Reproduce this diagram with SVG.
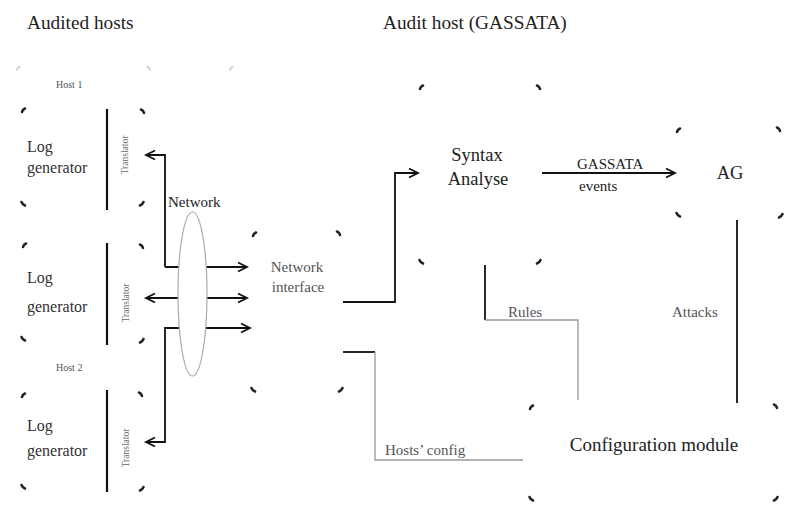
<svg xmlns="http://www.w3.org/2000/svg" xmlns:xlink="http://www.w3.org/1999/xlink" width="792" height="524" viewBox="0 0 792 524" font-family="Liberation Serif, Times New Roman, serif">
<style>
text{font-family:'Liberation Serif','Times New Roman',serif;fill:#222}
.title{font-size:19.3px}
.big{font-size:18.5px}
.lg{font-size:16px;fill:#333}
.md{font-size:15px}
.gr{fill:#555}
.sm{font-size:10px;fill:#555}
.tr{font-size:9.5px;fill:#666}
.bar{stroke:#111;stroke-width:2.2;fill:none}
.cn{stroke:#111;stroke-width:1.8;fill:none}
.cg{stroke:#999;stroke-width:1.3;fill:none}
.ck{stroke:#222;stroke-width:2.6;fill:none;stroke-linecap:round}
.cf{stroke:#ccc;stroke-width:1.6;fill:none;stroke-linecap:round}
</style>
<defs>
<marker id="arr" markerUnits="userSpaceOnUse" markerWidth="14" markerHeight="12" refX="10" refY="6" orient="auto-start-reverse">
<path d="M1,1.5 L10,6 L1,10.5" fill="none" stroke="#111" stroke-width="1.8"/>
</marker>
<path id="tl" d="M0,3 Q0.5,0.5 3,-0.5"/>
<path id="tr" d="M-3,-0.5 Q-0.5,0.5 0,3"/>
<path id="bl" d="M-0.5,-3 Q0.5,-0.5 3,0.5"/>
<path id="br" d="M0.5,-3 Q-0.5,-0.5 -3,0.5"/>
</defs>
<rect width="792" height="524" fill="#fff"/>

<g id="titles">
<text class="title" x="27" y="29">Audited hosts</text>
<text class="title" x="383" y="29">Audit host (GASSATA)</text>
</g>

<g id="faint-frames">
<use xlink:href="#tl" class="cf" x="17" y="67"/>
<use xlink:href="#tr" class="cf" x="150" y="67"/>
<use xlink:href="#tl" class="cf" x="230" y="67"/>
</g>

<g id="connectors">
<path class="cn" d="M165,267 V155 H146" marker-end="url(#arr)"/>
<path class="cn" d="M165,267 H247" marker-end="url(#arr)"/>
<path class="cn" d="M146,298 H247" marker-start="url(#arr)" marker-end="url(#arr)"/>
<path class="cn" d="M250,328 H165 V442 H146" marker-start="url(#arr)" marker-end="url(#arr)"/>
<path class="cn" d="M343,302 H395 V173 H418" marker-end="url(#arr)"/>
<path class="cn" d="M542,173 H675" marker-end="url(#arr)"/>
<path class="cn" d="M343,352 H375"/>
<path class="cg" d="M375,352 V460 H523"/>
<path class="cn" d="M485,265 V320"/>
<path class="cg" d="M485,320 H578 V400"/>
<path class="cn" d="M737,220 V403"/>
<text class="md" x="577" y="169">GASSATA</text>
<text class="md" x="579" y="191">events</text>
<text class="md gr" x="508" y="317">Rules</text>
<text class="md gr" x="672" y="317">Attacks</text>
<text class="md gr" x="385" y="455">Hosts’ config</text>
</g>

<g id="host1">
<text class="sm" x="56" y="88">Host 1</text>
<use xlink:href="#tl" class="ck" x="22" y="109"/>
<use xlink:href="#tr" class="ck" x="144" y="110"/>
<use xlink:href="#bl" class="ck" x="22" y="205"/>
<use xlink:href="#br" class="ck" x="143" y="205"/>
<text class="lg" x="27" y="152">Log</text>
<text class="lg" x="27" y="173">generator</text>
<line class="bar" x1="107" y1="109" x2="107" y2="210"/>
<text class="tr" transform="translate(128,155) rotate(-90)" text-anchor="middle">Translator</text>
</g>

<g id="host-middle">
<use xlink:href="#tl" class="ck" x="23" y="244"/>
<use xlink:href="#tr" class="ck" x="143" y="245"/>
<use xlink:href="#bl" class="ck" x="22" y="340"/>
<use xlink:href="#br" class="ck" x="143" y="342"/>
<text class="lg" x="27" y="283">Log</text>
<text class="lg" x="27" y="312">generator</text>
<line class="bar" x1="107" y1="243" x2="107" y2="345"/>
<text class="tr" transform="translate(129,303) rotate(-90)" text-anchor="middle">Translator</text>
</g>

<g id="host2">
<text class="sm" x="56" y="371">Host 2</text>
<use xlink:href="#tl" class="ck" x="22" y="394"/>
<use xlink:href="#tr" class="ck" x="142" y="393"/>
<use xlink:href="#bl" class="ck" x="22" y="488"/>
<use xlink:href="#br" class="ck" x="143" y="490"/>
<text class="lg" x="27" y="431">Log</text>
<text class="lg" x="27" y="456">generator</text>
<line class="bar" x1="107" y1="390" x2="107" y2="492"/>
<text class="tr" transform="translate(129,448) rotate(-90)" text-anchor="middle">Translator</text>
</g>

<g id="network">
<ellipse cx="192.5" cy="294" rx="14.5" ry="82" fill="#fff" stroke="#aaa" stroke-width="1.2"/>
<text class="md" x="168" y="207">Network</text>
</g>

<g id="network-interface">
<use xlink:href="#tl" class="ck" x="253" y="233"/>
<use xlink:href="#tr" class="ck" x="340" y="232"/>
<use xlink:href="#bl" class="ck" x="252" y="391"/>
<use xlink:href="#br" class="ck" x="342" y="391"/>
<text class="md gr" x="297" y="272" text-anchor="middle">Network</text>
<text class="md gr" x="298" y="292" text-anchor="middle">interface</text>
</g>

<g id="syntax-analyse">
<use xlink:href="#tl" class="ck" x="420" y="86"/>
<use xlink:href="#tr" class="ck" x="540" y="86"/>
<use xlink:href="#bl" class="ck" x="420" y="263"/>
<use xlink:href="#br" class="ck" x="540" y="263"/>
<text class="big" x="477" y="161" text-anchor="middle">Syntax</text>
<text class="big" x="478" y="185" text-anchor="middle">Analyse</text>
</g>

<g id="ag">
<use xlink:href="#tl" class="ck" x="677" y="129"/>
<use xlink:href="#tr" class="ck" x="780" y="128"/>
<use xlink:href="#bl" class="ck" x="677" y="216"/>
<use xlink:href="#br" class="ck" x="782" y="217"/>
<text class="big" x="730" y="179" text-anchor="middle">AG</text>
</g>

<g id="configuration-module">
<use xlink:href="#tl" class="ck" x="530" y="406"/>
<use xlink:href="#tr" class="ck" x="777" y="405"/>
<use xlink:href="#bl" class="ck" x="530" y="500"/>
<use xlink:href="#br" class="ck" x="777" y="500"/>
<text class="big" x="654" y="451" text-anchor="middle" style="font-size:19px">Configuration module</text>
</g>
</svg>
